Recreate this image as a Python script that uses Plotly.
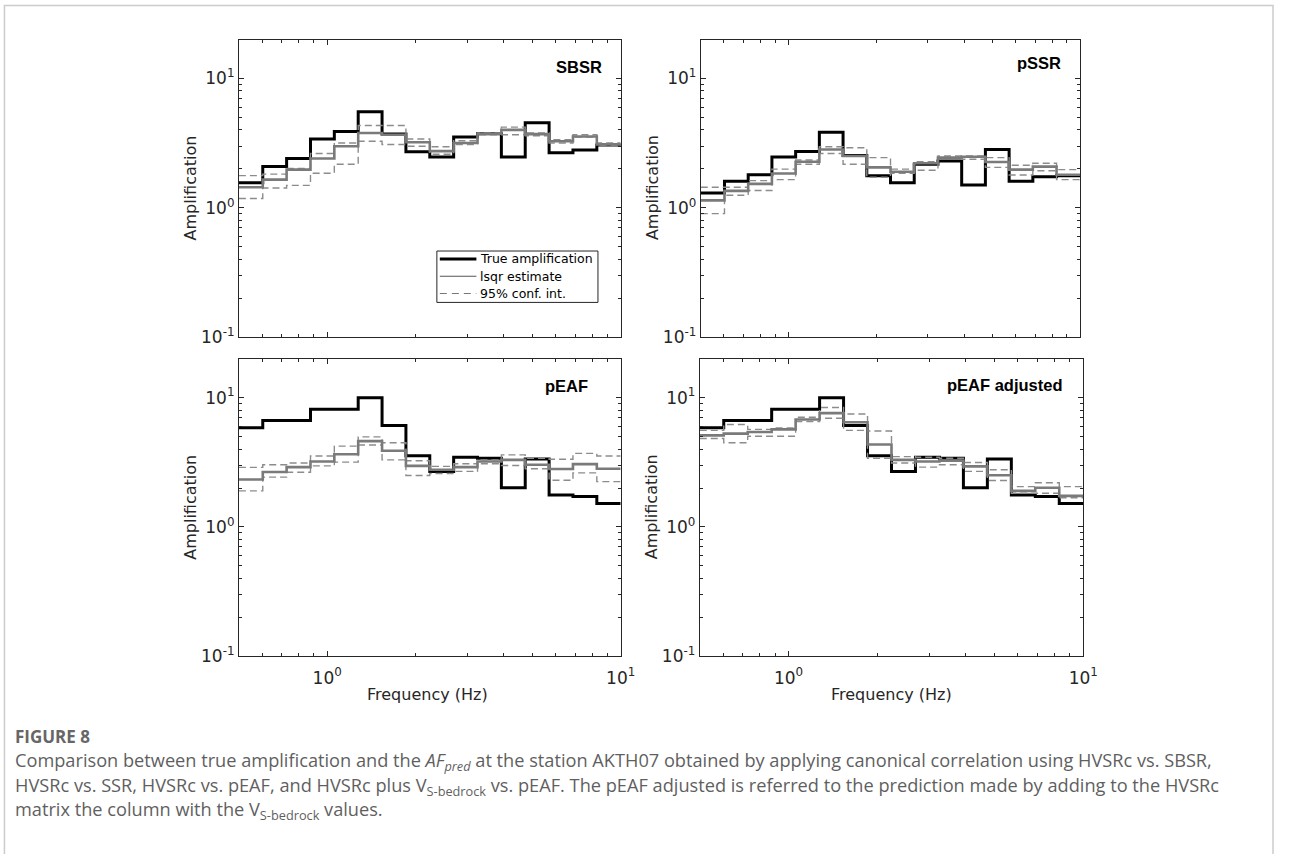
import plotly.graph_objects as go

# ---------------- data ----------------
freq_edges = [0.5, 0.603, 0.7271, 0.8768, 1.0573, 1.275, 1.5375, 1.8541, 2.2359,
              2.6963, 3.2514, 3.9209, 4.7282, 5.7018, 6.8758, 8.2915, 10.0]

sbsr_true = [1.56, 2.08, 2.40, 3.40, 3.89, 5.52, 3.71, 2.71, 2.47, 3.52, 3.73, 2.47, 4.55, 2.66, 2.79, 3.05]
sbsr_est  = [1.44, 1.65, 1.97, 2.40, 2.99, 3.78, 3.67, 3.21, 2.74, 3.17, 3.73, 4.00, 3.71, 3.27, 3.56, 3.08]
sbsr_up   = [1.77, 1.82, 2.01, 2.63, 3.17, 4.32, 4.32, 3.40, 2.96, 3.30, 3.78, 4.20, 3.78, 3.36, 3.67, 3.17]
sbsr_lo   = [1.18, 1.42, 1.49, 1.85, 2.17, 3.27, 3.08, 2.99, 2.59, 3.08, 3.67, 3.67, 3.60, 3.17, 3.52, 3.03]

pssr_true = [1.30, 1.60, 1.80, 2.47, 2.72, 3.84, 2.54, 1.77, 1.56, 2.17, 2.30, 1.50, 2.82, 1.60, 1.74, 1.77]
pssr_est  = [1.14, 1.35, 1.53, 1.84, 2.27, 2.82, 2.51, 2.05, 1.90, 2.21, 2.44, 2.48, 2.26, 1.97, 2.08, 1.80]
pssr_up   = [1.44, 1.44, 1.62, 1.99, 2.34, 2.96, 2.91, 2.44, 1.99, 2.27, 2.51, 2.51, 2.44, 2.13, 2.21, 1.97]
pssr_lo   = [0.90, 1.25, 1.36, 1.65, 2.17, 2.63, 2.17, 1.72, 1.85, 1.95, 2.44, 2.37, 2.05, 1.79, 1.93, 1.65]

peaf_true = [5.85, 6.65, 6.65, 8.15, 8.15, 10.0, 6.09, 3.56, 2.69, 3.46, 3.40, 2.01, 3.36, 1.77, 1.72, 1.52]
peaf_est  = [2.33, 2.66, 2.90, 3.21, 3.65, 4.61, 3.89, 2.97, 2.77, 2.90, 3.21, 3.30, 3.03, 2.81, 3.06, 2.82]
peaf_up   = [2.89, 3.03, 3.12, 3.54, 4.22, 4.97, 4.48, 3.25, 2.94, 3.08, 3.30, 3.61, 3.40, 3.34, 3.71, 3.54]
peaf_lo   = [1.90, 2.43, 2.65, 2.97, 3.17, 4.30, 3.30, 2.50, 2.59, 2.69, 3.08, 2.99, 2.82, 2.30, 2.62, 2.24]

peafa_true = [5.85, 6.65, 6.65, 8.15, 8.15, 10.0, 6.09, 3.56, 2.69, 3.46, 3.40, 2.01, 3.36, 1.77, 1.72, 1.52]
peafa_est  = [5.11, 5.27, 5.42, 5.68, 6.77, 7.60, 6.46, 4.34, 3.30, 3.21, 3.26, 2.94, 2.51, 1.90, 2.01, 1.74]
peafa_up   = [5.58, 6.20, 5.68, 5.82, 7.05, 8.40, 7.47, 5.52, 3.50, 3.46, 3.40, 3.15, 2.77, 2.05, 2.20, 2.05]
peafa_lo   = [4.83, 4.48, 5.03, 5.03, 6.53, 6.93, 5.58, 3.40, 3.12, 2.90, 3.03, 2.69, 2.29, 1.82, 1.82, 1.68]

panel_titles = ["SBSR", "pSSR", "pEAF", "pEAF adjusted"]
series_names = ["True amplification", "lsqr estimate", "95% conf. int."]
y_tick_vals = [0.1, 1, 10]
y_tick_text = ["10<sup>-1</sup>", "10<sup>0</sup>", "10<sup>1</sup>"]
x_tick_vals = [1, 10]
x_tick_text = ["10<sup>0</sup>", "10<sup>1</sup>"]

panels = [
    (sbsr_true, sbsr_est, sbsr_up, sbsr_lo),
    (pssr_true, pssr_est, pssr_up, pssr_lo),
    (peaf_true, peaf_est, peaf_up, peaf_lo),
    (peafa_true, peafa_est, peafa_up, peafa_lo),
]

# ---------------- layout geometry (pixels) ----------------
W, H = 1290, 854
px_x = [(241.7, 628), (709, 1093), (241.7, 628), (708, 1096)]
px_y = [(40, 341), (40, 341), (363, 664), (363, 664)]

AX = "#262626"
TRUE_C, EST_C, CONF_C = "#000000", "#7a7a7a", "#8c8c8c"
fig = go.Figure()

def step_y(v):
    return list(v) + [v[-1]]

for i, (tr, es, up, lo) in enumerate(panels):
    ax = "" if i == 0 else str(i + 1)
    xr, yr = "x" + ax, "y" + ax
    fig.add_trace(go.Scatter(x=freq_edges, y=step_y(tr), mode="lines", line_shape="hv",
                             line=dict(color=TRUE_C, width=3), name=series_names[0],
                             showlegend=False, xaxis=xr, yaxis=yr))
    for cv in (up, lo):
        fig.add_trace(go.Scatter(x=freq_edges, y=step_y(cv), mode="lines", line_shape="hv",
                                 line=dict(color=CONF_C, width=1.4, dash="7px,4px"),
                                 name=series_names[2], showlegend=False, xaxis=xr, yaxis=yr))
    fig.add_trace(go.Scatter(x=freq_edges, y=step_y(es), mode="lines", line_shape="hv",
                             line=dict(color=EST_C, width=2.6), name=series_names[1],
                             showlegend=False, xaxis=xr, yaxis=yr))

    x0, x1 = px_x[i]
    y0, y1 = px_y[i]
    common = dict(type="log", showline=True, linecolor=AX, linewidth=1, mirror="ticks",
                  ticks="inside", ticklen=5, tickcolor=AX, tickwidth=1, showgrid=False,
                  zeroline=False, tickfont=dict(family="DejaVu Sans", size=17, color=AX),
                  minor=dict(ticks="inside", ticklen=3, tickcolor=AX, showgrid=False))
    fig.layout["xaxis" + ax] = dict(common, domain=[x0 / W, x1 / W], range=[-0.30103, 1],
                                    anchor=yr, tickmode="array", tickvals=x_tick_vals,
                                    ticktext=x_tick_text, showticklabels=(i >= 2),
                                    ticklabelstandoff=6,
                                    minor=dict(common["minor"], tickmode="array",
                                               tickvals=[0.6, 0.7, 0.8, 0.9, 2, 3, 4, 5, 6, 7, 8, 9]))
    fig.layout["yaxis" + ax] = dict(common, domain=[1 - y1 / H, 1 - y0 / H], range=[-1, 1.30103],
                                    anchor=xr, tickmode="array", tickvals=y_tick_vals,
                                    ticktext=y_tick_text,
                                    minor=dict(common["minor"], tickmode="array",
                                               tickvals=[0.2, 0.3, 0.4, 0.5, 0.6, 0.7, 0.8, 0.9,
                                                         2, 3, 4, 5, 6, 7, 8, 9, 20]))

# panel titles
title_pos = [(611, 68), (1075, 64), (597, 391), (1078, 390)]
for (tx, ty), t in zip(title_pos, panel_titles):
    fig.add_annotation(text="<b>" + t + "</b>", xref="paper", yref="paper",
                       x=tx / W, y=1 - ty / H, xanchor="right", yanchor="middle",
                       showarrow=False, font=dict(family="Liberation Sans", size=16.5, color="#000"))

# axis titles
for (cx, cy) in [(193, 190), (660, 190), (193, 513), (660, 513)]:
    fig.add_annotation(text="Amplification", xref="paper", yref="paper", x=cx / W, y=1 - cy / H,
                       textangle=-90, showarrow=False, xanchor="center", yanchor="middle",
                       font=dict(family="DejaVu Sans", size=16, color=AX))
for cx in [433, 902]:
    fig.add_annotation(text="Frequency (Hz)", xref="paper", yref="paper", x=cx / W, y=1 - 703 / H,
                       showarrow=False, xanchor="center", yanchor="middle",
                       font=dict(family="DejaVu Sans", size=16, color=AX))

# legend (drawn inside SBSR panel)
LX0, LX1, LY0, LY1 = 442, 605, 254, 306
fig.add_shape(type="rect", xref="paper", yref="paper", x0=LX0 / W, x1=LX1 / W,
              y0=1 - LY1 / H, y1=1 - LY0 / H, line=dict(color=AX, width=1), fillcolor="white")
leg_styles = [dict(color="#000000", width=3), dict(color="#555555", width=1.2),
              dict(color="#777777", width=1.2, dash="7px,5px")]
for k, (nm, st) in enumerate(zip(series_names, leg_styles)):
    yy = 1 - (262 + 17.5 * k) / H
    fig.add_shape(type="line", xref="paper", yref="paper", x0=445 / W, x1=482 / W, y0=yy, y1=yy,
                  line=st)
    fig.add_annotation(text=nm, xref="paper", yref="paper", x=484 / W, y=yy, xanchor="left",
                       yanchor="middle", showarrow=False,
                       font=dict(family="DejaVu Sans", size=12.5, color="#000"))

# caption
CAP = "#5f5f5f"
fig.add_annotation(text="<b>FIGURE 8</b>", xref="paper", yref="paper", x=13 / W, y=1 - 745 / H,
                   xanchor="left", yanchor="middle", showarrow=False,
                   font=dict(family="Open Sans", size=17, color="#666666"))
cap_lines = [
    "Comparison between true amplification and the <i>AF<sub>pred</sub></i> at the station AKTH07 obtained by applying canonical correlation using HVSRc vs. SBSR,",
    "HVSRc vs. SSR, HVSRc vs. pEAF, and HVSRc plus V<sub>S-bedrock</sub> vs. pEAF. The pEAF adjusted is referred to the prediction made by adding to the HVSRc",
    "matrix the column with the V<sub>S-bedrock</sub> values.",
]
for k, ln in enumerate(cap_lines):
    fig.add_annotation(text=ln, xref="paper", yref="paper", x=13 / W, y=1 - (771 + 24.5 * k) / H,
                       xanchor="left", yanchor="middle", showarrow=False,
                       font=dict(family="Open Sans", size=18.2, color=CAP))

# frame
fig.add_shape(type="rect", xref="paper", yref="paper", x0=4.5 / W, x1=1288 / W, y0=-0.02, y1=1 - 5.5 / H,
              line=dict(color="#cccccc", width=1.5), fillcolor="rgba(0,0,0,0)", layer="below")

fig.update_layout(
    width=W, height=H, margin=dict(l=0, r=0, t=0, b=0),
    paper_bgcolor="white", plot_bgcolor="white", showlegend=False,
)

fig.write_html("out.html")
